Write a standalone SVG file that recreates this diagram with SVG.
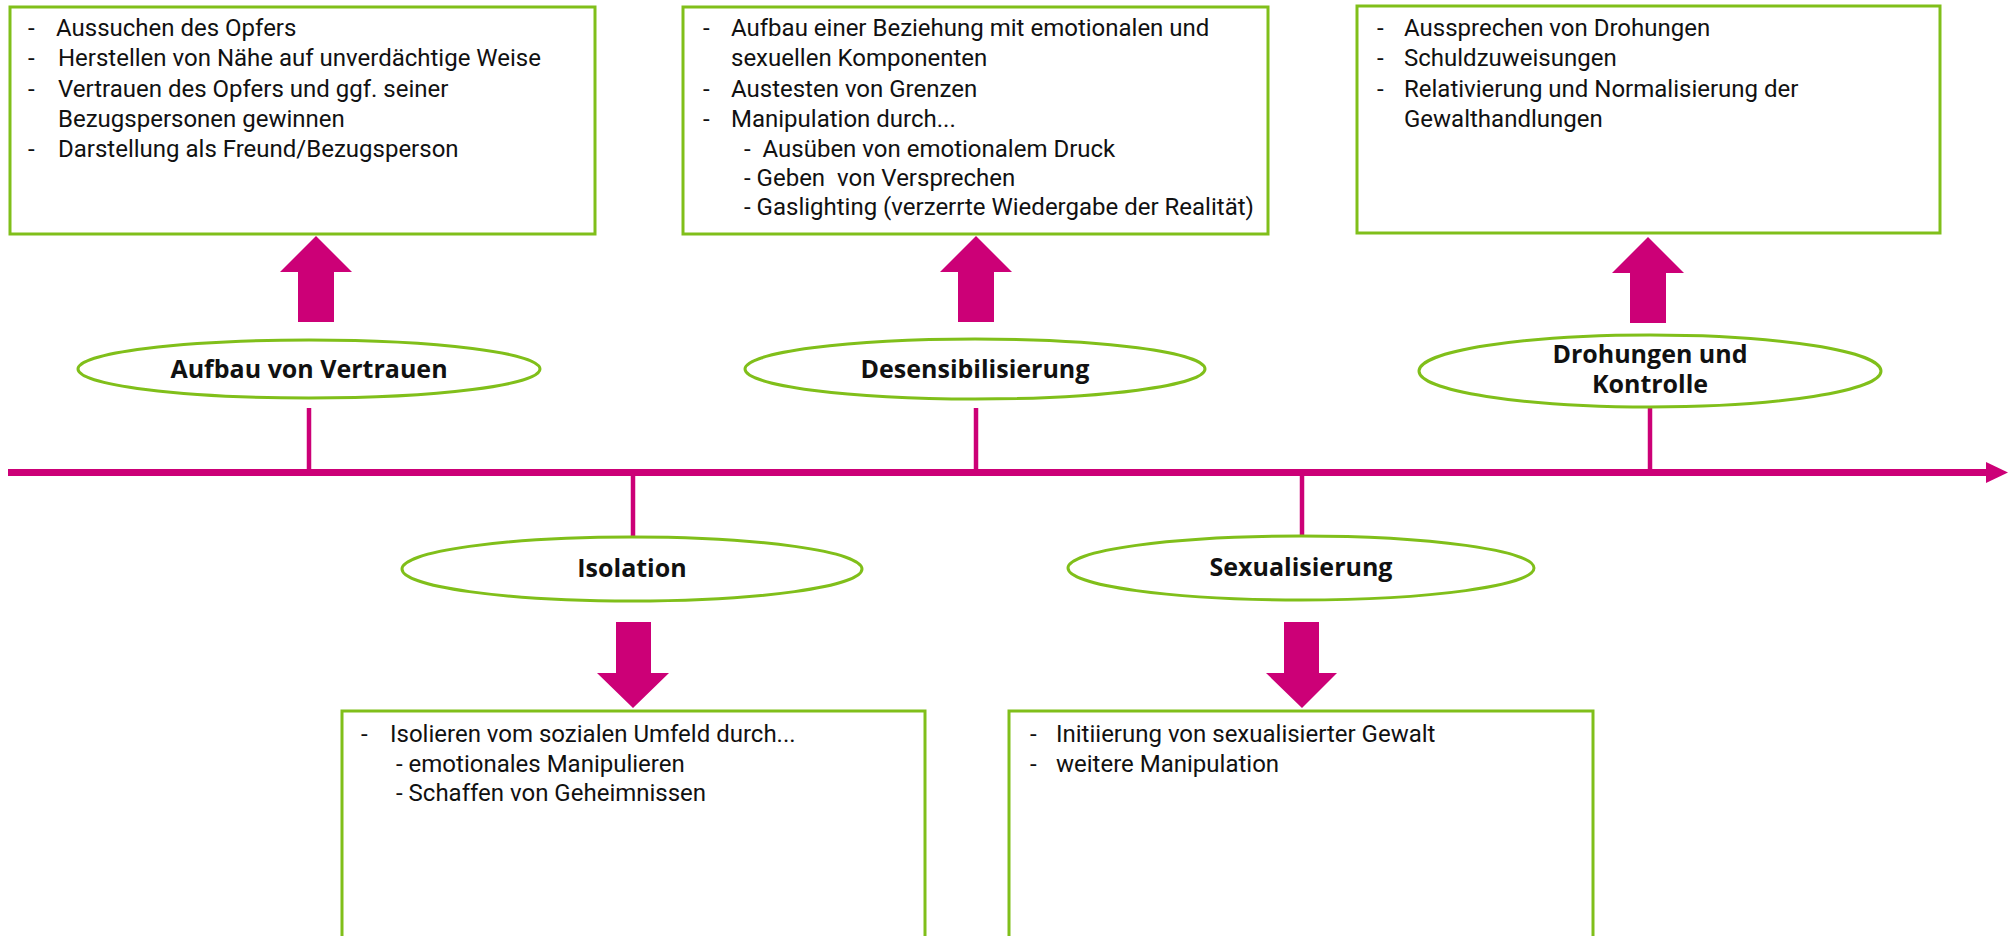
<svg xmlns="http://www.w3.org/2000/svg" width="2010" height="936" viewBox="0 0 2010 936">
<defs>
<style>
.box{fill:#fff;stroke:#80bf1a;stroke-width:3}
.ell{fill:#fff;stroke:#80bf1a;stroke-width:3}
.bt{font-family:Roboto,"Liberation Sans",sans-serif;font-size:24px;fill:#111}
.lbl{font-family:"Open Sans","Liberation Sans",sans-serif;font-size:25px;font-weight:bold;fill:#111;text-anchor:middle}
.mag{fill:#cc0077}
.tick{stroke:#cc0077;stroke-width:4.5}
</style>
</defs>
<rect width="2010" height="936" fill="#fff"/>
<g id="connectors">
<line x1="8" y1="472.5" x2="1990" y2="472.5" stroke="#cc0077" stroke-width="7"/>
<polygon class="mag" points="1986,462 2008,472.5 1986,483"/>
<line class="tick" x1="309" y1="408" x2="309" y2="470"/>
<line class="tick" x1="976" y1="408" x2="976" y2="470"/>
<line class="tick" x1="1650" y1="407" x2="1650" y2="470"/>
<line class="tick" x1="633" y1="475" x2="633" y2="537"/>
<line class="tick" x1="1302" y1="475" x2="1302" y2="536"/>
<polygon class="mag" points="298,322 298,272 280,272 316,236 352,272 334,272 334,322"/>
<polygon class="mag" points="958,322 958,272 940,272 976,236 1012,272 994,272 994,322"/>
<polygon class="mag" points="1630,323 1630,273 1612,273 1648,237 1684,273 1666,273 1666,323"/>
<polygon class="mag" points="616,622 651,622 651,673 669,673 633,708 597,673 616,673"/>
<polygon class="mag" points="1284,622 1319,622 1319,673 1337,673 1302,708 1266,673 1284,673"/>
</g>
<g id="box-aufbau">
<rect class="box" x="10" y="7" width="585" height="227"/>
<text class="bt" x="28" y="36">-</text><text class="bt" x="56" y="36">Aussuchen des Opfers</text>
<text class="bt" x="28" y="66">-</text><text class="bt" x="58" y="66">Herstellen von Nähe auf unverdächtige Weise</text>
<text class="bt" x="28" y="97">-</text><text class="bt" x="58" y="97">Vertrauen des Opfers und ggf. seiner</text>
<text class="bt" x="58" y="127">Bezugspersonen gewinnen</text>
<text class="bt" x="28" y="157">-</text><text class="bt" x="58" y="157">Darstellung als Freund/Bezugsperson</text>
</g>
<g id="box-desens">
<rect class="box" x="683" y="7" width="585" height="227"/>
<text class="bt" x="703" y="36">-</text><text class="bt" x="731" y="36">Aufbau einer Beziehung mit emotionalen und</text>
<text class="bt" x="731" y="66">sexuellen Komponenten</text>
<text class="bt" x="703" y="97">-</text><text class="bt" x="731" y="97">Austesten von Grenzen</text>
<text class="bt" x="703" y="127">-</text><text class="bt" x="731" y="127">Manipulation durch...</text>
<text class="bt" x="744" y="157" xml:space="preserve">-  Ausüben von emotionalem Druck</text>
<text class="bt" x="744" y="186" xml:space="preserve">- Geben  von Versprechen</text>
<text class="bt" x="744" y="215" xml:space="preserve">- Gaslighting (verzerrte Wiedergabe der Realität)</text>
</g>
<g id="box-drohungen">
<rect class="box" x="1357" y="6" width="583" height="227"/>
<text class="bt" x="1377" y="36">-</text><text class="bt" x="1404" y="36">Aussprechen von Drohungen</text>
<text class="bt" x="1377" y="66">-</text><text class="bt" x="1404" y="66">Schuldzuweisungen</text>
<text class="bt" x="1377" y="97">-</text><text class="bt" x="1404" y="97">Relativierung und Normalisierung der</text>
<text class="bt" x="1404" y="127">Gewalthandlungen</text>
</g>
<g id="box-isolation">
<rect class="box" x="342" y="711" width="583" height="260"/>
<text class="bt" x="361" y="742">-</text><text class="bt" x="390" y="742">Isolieren vom sozialen Umfeld durch...</text>
<text class="bt" x="396" y="772">- emotionales Manipulieren</text>
<text class="bt" x="396" y="801">- Schaffen von Geheimnissen</text>
</g>
<g id="box-sexual">
<rect class="box" x="1009" y="711" width="584" height="260"/>
<text class="bt" x="1030" y="742">-</text><text class="bt" x="1056" y="742">Initiierung von sexualisierter Gewalt</text>
<text class="bt" x="1030" y="772">-</text><text class="bt" x="1056" y="772">weitere Manipulation</text>
</g>
<g id="node-vertrauen">
<ellipse class="ell" cx="309" cy="369" rx="231" ry="29"/>
<text class="lbl" x="309" y="378">Aufbau von Vertrauen</text>
</g>
<g id="node-desens">
<ellipse class="ell" cx="975" cy="369" rx="230" ry="30"/>
<text class="lbl" x="975" y="378">Desensibilisierung</text>
</g>
<g id="node-drohungen">
<ellipse class="ell" cx="1650" cy="371" rx="231" ry="36"/>
<text class="lbl" x="1650" y="363">Drohungen und</text>
<text class="lbl" x="1650" y="393">Kontrolle</text>
</g>
<g id="node-isolation">
<ellipse class="ell" cx="632" cy="569" rx="230" ry="32"/>
<text class="lbl" x="632" y="577">Isolation</text>
</g>
<g id="node-sexual">
<ellipse class="ell" cx="1301" cy="568" rx="233" ry="32"/>
<text class="lbl" x="1301" y="576">Sexualisierung</text>
</g>
</svg>
